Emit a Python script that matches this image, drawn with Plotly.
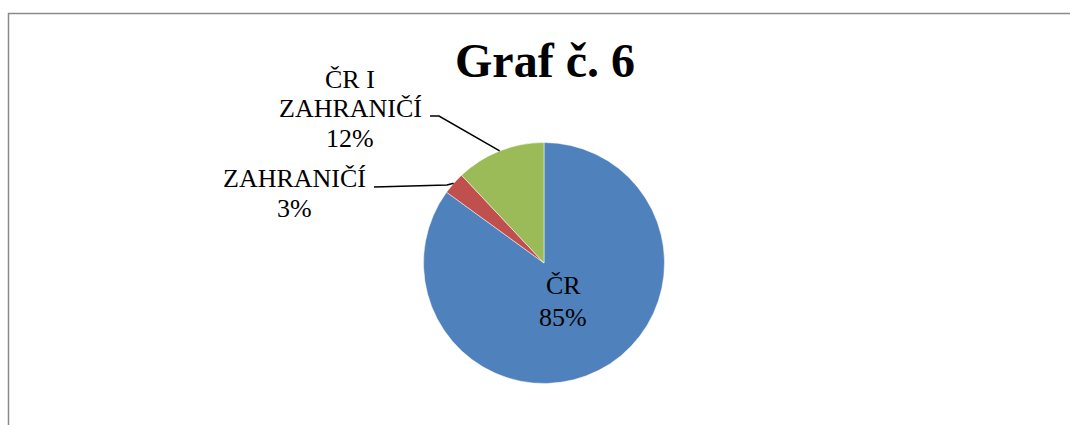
import math
import plotly.graph_objects as go

# data
labels = ["ČR", "ZAHRANIČÍ", "ČR I ZAHRANIČÍ"]
values = [85, 3, 12]
colors = ["#4F81BD", "#C0504D", "#9BBB59"]
label_lines = [["ČR"], ["ZAHRANIČÍ"], ["ČR I", "ZAHRANIČÍ"]]

W, H = 1070, 425
FONT = "Liberation Serif"

# pie geometry (px)
cx, cy, r = 544, 263, 120.5


def px(x, y):
    return x / W, 1 - y / H


fig = go.Figure(go.Pie(
    labels=labels,
    values=values,
    marker=dict(colors=colors, line=dict(color="white", width=0.5)),
    sort=False,
    direction="clockwise",
    rotation=0,
    textinfo="none",
    hoverinfo="label+percent",
    showlegend=False,
    domain=dict(x=[(cx - r) / W, (cx + r) / W],
                y=[1 - (cy + r) / H, 1 - (cy - r) / H]),
))

# label positions: centre x, first line y, line step, leader start (px)
label_pos = [
    dict(x=563, y=285, step=32, lead=None),
    dict(x=294, y=178, step=31, lead=[(374, 187), (447, 185)]),
    dict(x=350, y=79, step=29.5, lead=[(430, 116), (439, 116)]),
]

total = sum(values)
pct = [round(v / total * 100) for v in values]
annotations = []
shapes = []
cum = 0
for i, lab in enumerate(labels):
    mid = (cum + values[i] / 2) / total * 2 * math.pi
    cum += values[i]
    pos = label_pos[i]
    lines = label_lines[i] + [f"{pct[i]}%"]
    for j, t in enumerate(lines):
        x, y = px(pos["x"], pos["y"] + j * pos["step"])
        annotations.append(dict(x=x, y=y, xref="paper", yref="paper", text=t,
                                showarrow=False, xanchor="center", yanchor="middle",
                                font=dict(family=FONT, size=26, color="black")))
    if pos["lead"]:
        ex = cx + r * math.sin(mid)
        ey = cy - r * math.cos(mid)
        pts = pos["lead"] + [(ex, ey)]
        path = "M " + " L ".join(f"{px(a, b)[0]} {px(a, b)[1]}" for a, b in pts)
        shapes.append(dict(type="path", path=path, xref="paper", yref="paper",
                           line=dict(color="black", width=1.5)))

# chart border (top and left visible)
bx0, by0 = px(8.5, 425)
bx1, by1 = px(8.5, 13.5)
bx2, _ = px(1070, 13.5)
shapes.append(dict(type="path", path=f"M {bx0} {by0} L {bx1} {by1} L {bx2} {by1}",
                   xref="paper", yref="paper", line=dict(color="#8a8a8a", width=1.5)))

fig.update_layout(
    width=W, height=H,
    margin=dict(l=0, r=0, t=0, b=0),
    paper_bgcolor="white",
    plot_bgcolor="white",
    title=dict(text="Graf č. 6", x=545 / W, xanchor="center",
               y=1 - 60 / H, yref="container", yanchor="middle",
               font=dict(family=FONT, size=48, color="black", weight="bold")),
    annotations=annotations,
    shapes=shapes,
)

fig.write_html("out.html", config={"displayModeBar": False},
               post_script="document.body.style.margin='0';")
